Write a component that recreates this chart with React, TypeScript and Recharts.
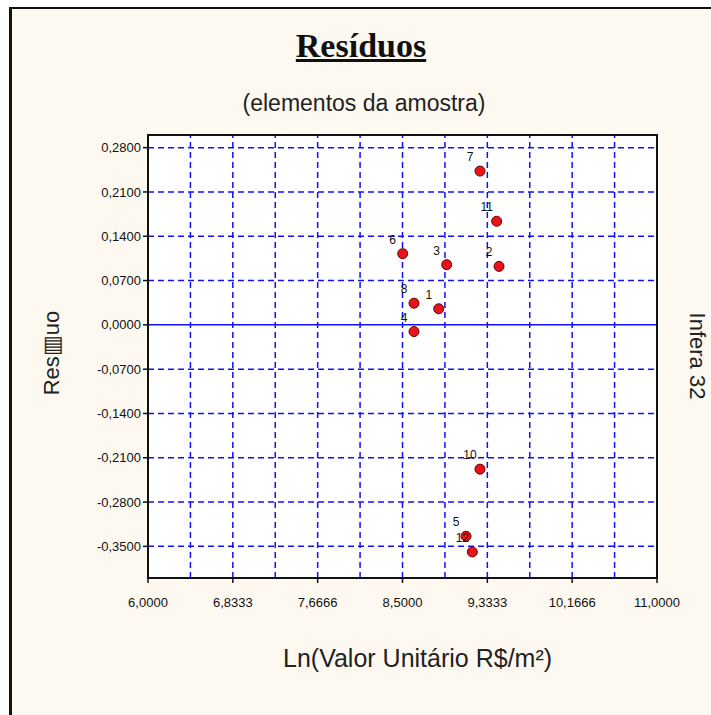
import React from "react";
import {
  ScatterChart,
  Scatter,
  XAxis,
  YAxis,
  ReferenceLine,
  ReferenceArea,
} from "recharts";

// sample elements (id 9 is not visible in the source picture)
const pointIds = [1, 2, 3, 4, 5, 6, 7, 8, 10, 11, 12];
const lnValues = [8.856, 9.448, 8.934, 8.613, 9.124, 8.502, 9.261, 8.613, 9.261, 9.425, 9.186];
const residuals = [0.0254, 0.0924, 0.0951, -0.0106, -0.334, 0.1125, 0.243, 0.0342, -0.228, 0.1637, -0.3588];

const xTicks = [6, 6.8333, 7.6666, 8.5, 9.3333, 10.1666, 11];
const xGrid = [6.4167, 6.8333, 7.25, 7.6666, 8.0833, 8.5, 8.9167, 9.3333, 9.75, 10.1666, 10.5833];
const yTicks = [0.28, 0.21, 0.14, 0.07, 0, -0.07, -0.14, -0.21, -0.28, -0.35];

const data = pointIds.map((id, i) => ({ id, x: lnValues[i], y: residuals[i] }));

const BLUE = "#1010ff";
const fmt = (v: number) => v.toFixed(4).replace(".", ",");

const PointShape = (props: any) => {
  const { cx, cy, payload } = props;
  return (
    <g>
      <circle cx={cx} cy={cy} r={5} fill="#e8141b" stroke="#6b0000" strokeWidth={1} />
      <text
        x={cx - 10}
        y={cy - 10}
        textAnchor="middle"
        fontSize={12}
        fontFamily="Arial, 'Liberation Sans', sans-serif"
        fill="#111"
      >
        {payload.id}
      </text>
    </g>
  );
};

export default function App() {
  const sans = "Arial, 'Liberation Sans', sans-serif";
  return (
    <div style={{ position: "fixed", left: 0, top: 0, width: 711, height: 715, background: "#fff", overflow: "hidden" }}>
      <div
        style={{
          position: "absolute",
          left: 9,
          top: 7,
          width: 720,
          height: 720,
          background: "#fdf9f0",
          borderLeft: "3px solid #111",
          borderTop: "2px solid #111",
        }}
      />
      <div
        style={{
          position: "absolute",
          left: 211,
          width: 300,
          top: 28,
          textAlign: "center",
          fontFamily: "'Liberation Serif', 'Times New Roman', serif",
          fontWeight: "bold",
          fontSize: 34,
          lineHeight: "36px",
          textDecoration: "underline",
          color: "#111",
        }}
      >
        Resíduos
      </div>
      <div
        style={{
          position: "absolute",
          left: 164,
          width: 400,
          top: 90,
          textAlign: "center",
          fontFamily: sans,
          fontSize: 23,
          lineHeight: "26px",
          color: "#222",
        }}
      >
        (elementos da amostra)
      </div>

      <div style={{ position: "absolute", left: 0, top: 0 }}>
        <ScatterChart width={711} height={715} margin={{ top: 135, right: 54, bottom: 97, left: 68 }}>
          <ReferenceArea zIndex={-100} x1={6} x2={11} y1={-0.4} y2={0.3} fill="#ffffff" fillOpacity={1} stroke="none" />
          {xGrid.map((v) => (
            <ReferenceLine zIndex={-50} key={"x" + v} x={v} stroke={BLUE} strokeWidth={1.5} strokeDasharray="6 4" />
          ))}
          {yTicks
            .filter((v) => v !== 0)
            .map((v) => (
              <ReferenceLine zIndex={-50} key={"y" + v} y={v} stroke={BLUE} strokeWidth={1.5} strokeDasharray="6 4" />
            ))}
          <ReferenceLine zIndex={-50} y={0} stroke={BLUE} strokeWidth={1.5} />
          <ReferenceArea x1={6} x2={11} y1={-0.4} y2={0.3} fill="none" stroke="#111" strokeWidth={2} />
          <XAxis
            type="number"
            dataKey="x"
            domain={[6, 11]}
            ticks={xTicks}
            tickFormatter={fmt}
            allowDataOverflow
            axisLine={false}
            tickLine={{ stroke: "#111", strokeWidth: 1.5 }}
            tickSize={5}
            tickMargin={15}
            height={40}
            interval={0}
            tick={{ fontSize: 13, fontFamily: sans, fill: "#111" }}
          />
          <YAxis
            type="number"
            dataKey="y"
            domain={[-0.4, 0.3]}
            ticks={yTicks}
            tickFormatter={fmt}
            allowDataOverflow
            axisLine={false}
            tickLine={{ stroke: "#111", strokeWidth: 1.5 }}
            tickSize={5}
            width={80}
            interval={0}
            tick={{ fontSize: 13, fontFamily: sans, fill: "#111" }}
          />
          <Scatter data={data} shape={PointShape} isAnimationActive={false} />
        </ScatterChart>
      </div>

      <div
        style={{
          position: "absolute",
          left: 52,
          top: 353,
          transform: "translate(-50%, -50%) rotate(-90deg)",
          whiteSpace: "nowrap",
          fontFamily: sans,
          fontSize: 22,
          color: "#222",
        }}
      >
        Res▥uo
      </div>
      <div
        style={{
          position: "absolute",
          left: 697,
          top: 356,
          transform: "translate(-50%, -50%) rotate(90deg)",
          whiteSpace: "nowrap",
          fontFamily: sans,
          fontSize: 22,
          lineHeight: "22px",
          color: "#222",
        }}
      >
        Infera 32
      </div>
      <div
        style={{
          position: "absolute",
          left: 283,
          top: 644,
          whiteSpace: "nowrap",
          fontFamily: sans,
          fontSize: 25,
          lineHeight: "28px",
          color: "#222",
        }}
      >
        Ln(Valor Unitário R$/m²)
      </div>
    </div>
  );
}
